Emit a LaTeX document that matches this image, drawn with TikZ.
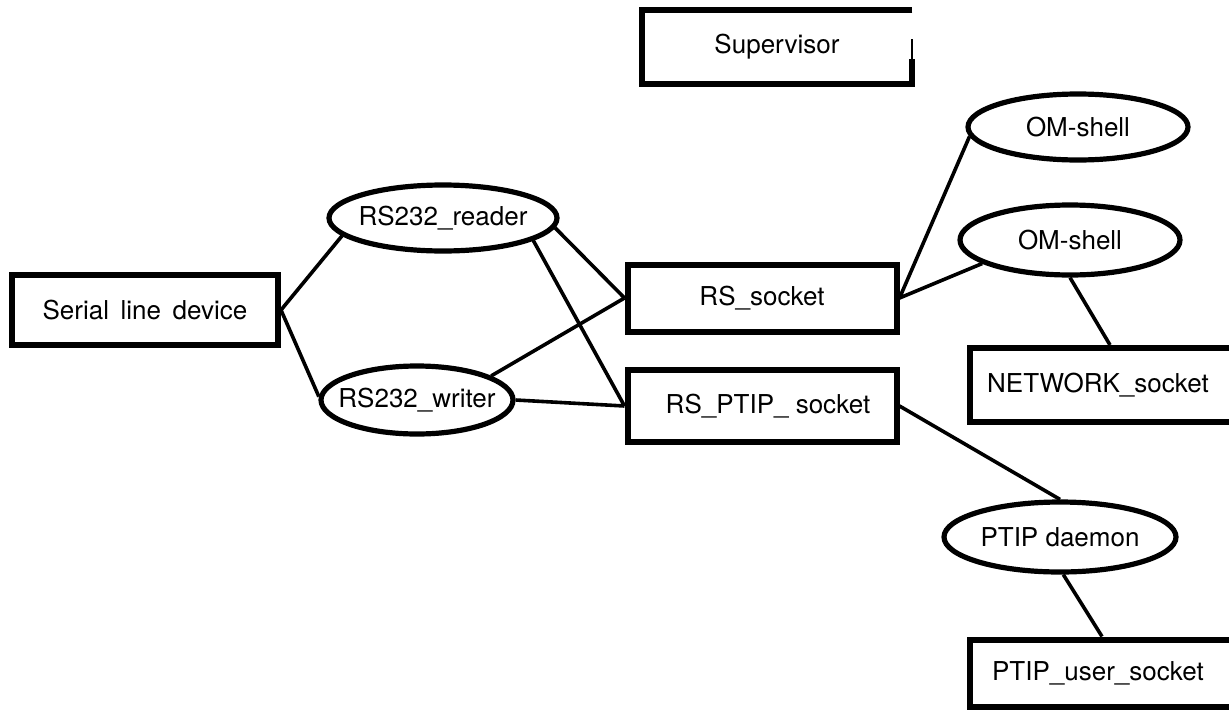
\documentclass[tikz,border=0pt]{standalone}
\usepackage{fontspec}
\setmainfont{TeX Gyre Heros}
\usetikzlibrary{shapes.geometric}

\tikzset{
  box/.style={draw, line width=3pt, rectangle, inner sep=0pt},
  proc/.style={draw, line width=2.6pt, ellipse, inner sep=0pt, inner xsep=-8pt},
  link/.style={line width=1.8pt}
}

\begin{document}
\begin{tikzpicture}[x=0.5pt, y=-0.5pt]

  \fontsize{13}{15}\selectfont
  \useasboundingbox (0,0) rectangle (1229,712);

  % supervisor, right side partly missing
  \node[minimum width=135pt, minimum height=36.5pt, inner sep=0pt] (sup) at (777,47) {Supervisor};
  \draw[line width=3pt] (sup.north east) -- (sup.north west) -- (sup.south west)
    -- (sup.south east) -- ([yshift=-6pt]sup.east);
  \draw[line width=1pt] ([yshift=-6pt]sup.east) -- ([yshift=4pt]sup.east);

  \node[box, minimum width=133pt, minimum height=35pt] (ser) at (145,310) {Serial\, line\, device};

  \node[proc, minimum width=114pt, minimum height=33pt] (rdr) at (443,218) {RS232\_reader};
  \node[proc, minimum width=96pt, minimum height=34pt] (wrt) at (417,400) {RS232\_writer};

  \node[box, minimum width=134.5pt, minimum height=33.5pt] (rss) at (762,298) {RS\_socket};
  \node[box, minimum width=134.5pt, minimum height=36pt] (pts) at (762,406) {\hspace{6pt}RS\_PTIP\_ socket};

  % right side boxes run off the edge
  \node[proc, minimum width=110pt, minimum height=33pt] (om1) at (1078,127) {OM-shell};
  \node[proc, minimum width=110pt, minimum height=35pt] (om2) at (1070,240) {OM-shell};
  \node[box, minimum width=136pt, minimum height=37pt] (net) at (1106,385) {\hspace{-8pt}NETWORK\_socket};

  \node[proc, minimum width=116pt, minimum height=35pt] (dmn) at (1060,537) {PTIP daemon};
  \node[box, minimum width=136pt, minimum height=33.5pt] (usr) at (1106,673) {\hspace{-8pt}PTIP\_user\_socket};

  % connectors
  \draw[link] (rdr.190) -- (ser.east) -- (wrt.178);
  \draw[link] (rdr.-5) -- (rss.west);
  \draw[link] (rdr.-14) -- (pts.west);
  \draw[link] (wrt.18) -- (rss.west);
  \draw[link] (wrt.east) -- (pts.west);
  \draw[link] (om1.185) -- (rss.east) -- (om2.195);
  \draw[link] (om2.south) -- ([xshift=2pt]net.north);
  \draw[link] (pts.east) -- (dmn.north);
  \draw[link] (dmn.-85) -- ([xshift=-2pt]usr.north);

\end{tikzpicture}
\end{document}
